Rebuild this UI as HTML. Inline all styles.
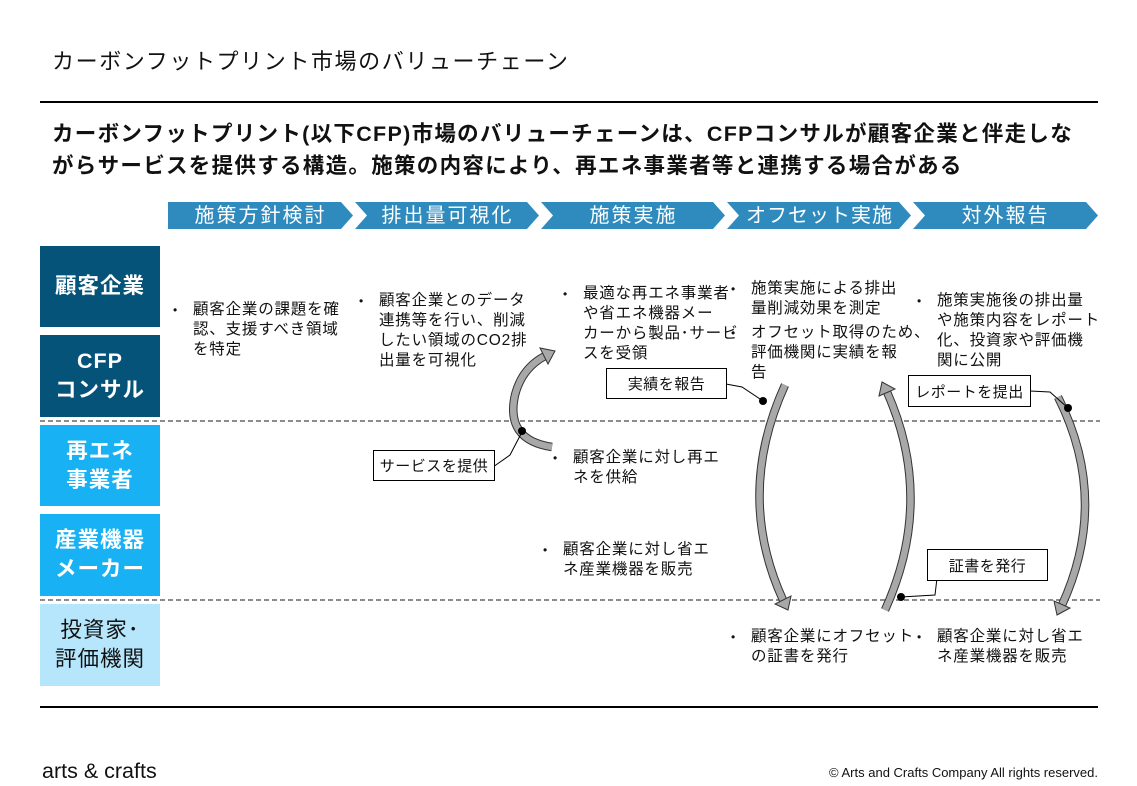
<!DOCTYPE html>
<html><head><meta charset="utf-8">
<style>
body{margin:0;width:1137px;height:786px;background:#fff;position:relative;overflow:hidden;font-family:"Liberation Sans","Noto Sans CJK JP",sans-serif;color:#111}
.a{position:absolute;white-space:nowrap}
.row{position:absolute;left:40px;width:120px;display:flex;align-items:center;justify-content:center;text-align:center;font-weight:bold;font-size:21.5px;line-height:29px;letter-spacing:1px}
.t{position:absolute;font-size:15.5px;line-height:20px;letter-spacing:0.8px;white-space:nowrap}
.t div{position:relative;padding-left:20px}
.t div:before{content:"•";position:absolute;left:0;top:0;font-size:12px}
.box{position:absolute;border:1px solid #000;background:#fff;font-size:15px;display:flex;align-items:center;justify-content:center;letter-spacing:0.5px}
</style></head><body>
<div class="a" style="left:52px;top:44px;font-size:22px;letter-spacing:1.6px">カーボンフットプリント市場のバリューチェーン</div>
<div class="a" style="left:40px;top:101px;width:1058px;height:2px;background:#000"></div>
<div class="a" style="left:52px;top:118px;font-size:21.5px;font-weight:bold;line-height:32px;letter-spacing:1.3px">カーボンフットプリント(以下CFP)市場のバリューチェーンは、CFPコンサルが顧客企業と伴走しな<br>がらサービスを提供する構造。施策の内容により、再エネ事業者等と連携する場合がある</div>

<svg class="a" style="left:0;top:0" width="1137" height="786">
<g fill="#2f8bbd">
<polygon points="168,202 341,202 353,215.5 341,229 168,229"/>
<polygon points="355,202 527,202 539,215.5 527,229 355,229 367,215.5" />
<polygon points="541,202 713,202 725,215.5 713,229 541,229 553,215.5"/>
<polygon points="727,202 899,202 911,215.5 899,229 727,229 739,215.5"/>
<polygon points="913,202 1086,202 1098,215.5 1086,229 913,229 925,215.5"/>
</g>
<g stroke="#666" stroke-width="1.5" stroke-dasharray="5,3">
<line x1="40" y1="421" x2="1100" y2="421"/>
<line x1="40" y1="600" x2="1100" y2="600"/>
</g>
<line x1="40" y1="707" x2="1098" y2="707" stroke="#000" stroke-width="2"/>
<g fill="none" stroke="#333" stroke-width="8.5">
<path d="M552,447 Q505,440 515,395 Q522,368 545,356"/>
<path d="M785,385 Q735,495 783,600"/>
<path d="M885,610 Q935,500 887,392"/>
<path d="M1058,397 Q1110,500 1062,605"/>
</g>
<g fill="none" stroke="#a8a8a8" stroke-width="6.5">
<path d="M552,447 Q505,440 515,395 Q522,368 545,356"/>
<path d="M785,385 Q735,495 783,600"/>
<path d="M885,610 Q935,500 887,392"/>
<path d="M1058,397 Q1110,500 1062,605"/>
</g>
<g fill="#a8a8a8" stroke="#333" stroke-width="1">
<polygon points="555,351 548,364 540,348"/>
<polygon points="788,610 775,604 791,596"/>
<polygon points="882,382 895,389 879,396"/>
<polygon points="1057,615 1070,608 1054,601"/>
</g>
<g stroke="#000" stroke-width="1" fill="none">
<polyline points="493,467 510,455 522,432"/>
<polyline points="726,384 742,387 763,401"/>
<polyline points="1030,391 1050,392 1068,408"/>
<polyline points="937,578 935,595 901,597"/>
</g>
<g fill="#000">
<circle cx="522" cy="431" r="4"/><circle cx="763" cy="401" r="4"/><circle cx="1068" cy="408" r="4"/><circle cx="901" cy="597" r="4"/>
</g>
</svg>
<div class="a" style="left:168px;top:203px;width:185px;text-align:center;color:#fff;font-size:20px;letter-spacing:2px;line-height:26px">施策方針検討</div>
<div class="a" style="left:355px;top:203px;width:185px;text-align:center;color:#fff;font-size:20px;letter-spacing:2px;line-height:26px">排出量可視化</div>
<div class="a" style="left:541px;top:203px;width:185px;text-align:center;color:#fff;font-size:20px;letter-spacing:2px;line-height:26px">施策実施</div>
<div class="a" style="left:727px;top:203px;width:185px;text-align:center;color:#fff;font-size:20px;letter-spacing:1px;line-height:26px">オフセット実施</div>
<div class="a" style="left:913px;top:203px;width:185px;text-align:center;color:#fff;font-size:20px;letter-spacing:2px;line-height:26px">対外報告</div>

<div class="row" style="top:246px;height:81px;background:#055378;color:#fff">顧客企業</div>
<div class="row" style="top:335px;height:82px;background:#055378;color:#fff">CFP<br>コンサル</div>
<div class="row" style="top:425px;height:81px;background:#18b1f3;color:#fff">再エネ<br>事業者</div>
<div class="row" style="top:514px;height:82px;background:#18b1f3;color:#fff">産業機器<br>メーカー</div>
<div class="row" style="top:604px;height:82px;background:#b5e6fb;color:#111;font-weight:normal">投資家･<br>評価機関</div>

<div class="t" style="left:173px;top:300px"><div>顧客企業の課題を確<br>認、支援すべき領域<br>を特定</div></div>
<div class="t" style="left:359px;top:291px"><div>顧客企業とのデータ<br>連携等を行い、削減<br>したい領域のCO2排<br>出量を可視化</div></div>
<div class="t" style="left:563px;top:284px"><div>最適な再エネ事業者<br>や省エネ機器メー<br>カーから製品･サービ<br>スを受領</div></div>
<div class="t" style="left:731px;top:279px"><div>施策実施による排出<br>量削減効果を測定</div></div>
<div class="t" style="left:731px;top:323px"><div>オフセット取得のため、<br>評価機関に実績を報<br>告</div></div>
<div class="t" style="left:917px;top:291px"><div>施策実施後の排出量<br>や施策内容をレポート<br>化、投資家や評価機<br>関に公開</div></div>
<div class="t" style="left:553px;top:448px"><div>顧客企業に対し再エ<br>ネを供給</div></div>
<div class="t" style="left:543px;top:540px"><div>顧客企業に対し省エ<br>ネ産業機器を販売</div></div>
<div class="t" style="left:731px;top:627px"><div>顧客企業にオフセット<br>の証書を発行</div></div>
<div class="t" style="left:917px;top:627px"><div>顧客企業に対し省エ<br>ネ産業機器を販売</div></div>

<div class="box" style="left:373px;top:450px;width:120px;height:29px">サービスを提供</div>
<div class="box" style="left:606px;top:368px;width:119px;height:29px">実績を報告</div>
<div class="box" style="left:908px;top:375px;width:121px;height:30px">レポートを提出</div>
<div class="box" style="left:927px;top:549px;width:119px;height:30px">証書を発行</div>

<div class="a" style="left:42px;top:759px;font-size:21.5px;letter-spacing:0px">arts &amp; crafts</div>
<div class="a" style="right:39px;top:765px;font-size:13px">© Arts and Crafts Company All rights reserved.</div>
</body></html>
